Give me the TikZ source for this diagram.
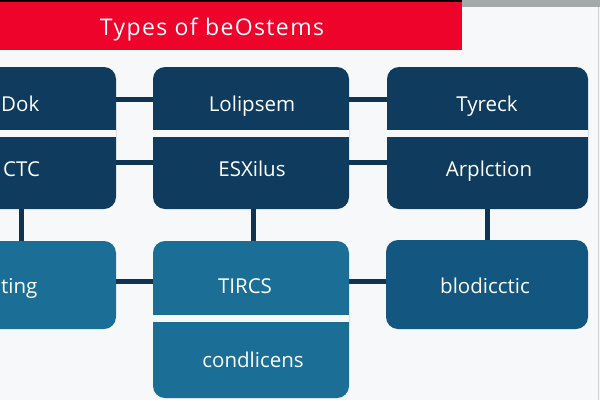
\documentclass[tikz,border=0pt]{standalone}
\usepackage{fontspec}
\setmainfont{Open Sans}
\definecolor{bgc}{RGB}{246,248,249}
\definecolor{navyc}{RGB}{14,59,94}
\definecolor{tealc}{RGB}{27,110,150}
\definecolor{deepc}{RGB}{19,86,128}
\definecolor{connc}{RGB}{14,52,82}
\definecolor{grayband}{RGB}{164,169,170}
\definecolor{titlered}{RGB}{238,4,42}
\definecolor{borderc}{RGB}{205,209,211}
\begin{document}
\begin{tikzpicture}[x=1pt,y=-1pt,
  navy/.style={fill=navyc},
  tealbox/.style={fill=tealc},
  deepbox/.style={fill=deepc},
  box/.style={rounded corners=12pt, inner sep=0pt, draw=none},
  gapline/.style={line width=7pt, draw=bgc},
  conn/.style={line width=5pt, draw=connc},
  lbl/.style={text=white, font=\fontsize{20.5}{24}\selectfont, inner sep=0pt, anchor=base}]
\useasboundingbox (0,0) rectangle (600,400);
\clip (0,0) rectangle (600,400);
% background
\fill[bgc] (0,0) rectangle (600,400);
% title bar
\fill[grayband] (462,0) rectangle (600,7);
\fill[titlered] (0,0) rectangle (462,50);
\fill[black] (0,0) rectangle (462,1.5);
\draw[borderc, line width=1pt] (598,7) -- (598,400);
\node[text=white, font=\fontsize{23}{26}\selectfont\addfontfeatures{LetterSpace=6}, inner sep=0pt, anchor=base] (title) at (212,35) {Types of beOstems};
\coordinate (ya) at (0,99);
\coordinate (yb) at (0,162);
\coordinate (yc) at (0,281);
% boxes
\node[box, navy, minimum width=200pt, minimum height=142pt] (L) at (16,138) {};
\node[box, navy, minimum width=196pt, minimum height=142pt] (M) at (251,138) {};
\node[box, navy, minimum width=201pt, minimum height=142pt] (R) at (487.5,138) {};
\node[box, tealbox, minimum width=200pt, minimum height=88pt] (BL) at (16,285) {};
\node[box, tealbox, minimum width=196pt, minimum height=157pt] (BM) at (251,319.5) {};
\node[box, deepbox, minimum width=202pt, minimum height=89pt] (BR) at (487,284.5) {};
% split lines
\draw[gapline] (L.west |- 0,133.5) -- (L.east |- 0,133.5);
\draw[gapline] (M.west |- 0,133.5) -- (M.east |- 0,133.5);
\draw[gapline] (R.west |- 0,133.5) -- (R.east |- 0,133.5);
\draw[gapline] (BM.west |- 0,318.5) -- (BM.east |- 0,318.5);
% connectors
\draw[conn] (L.east |- ya) -- (M.west |- ya);
\draw[conn] (M.east |- ya) -- (R.west |- ya);
\draw[conn] (L.east |- yb) -- (M.west |- yb);
\draw[conn] (M.east |- yb) -- (R.west |- yb);
\draw[conn] (BL.east |- yc) -- (BM.west |- yc);
\draw[conn] (BM.east |- yc) -- (BR.west |- yc);
\draw[conn] (L.south -| 21,0) -- (BL.north -| 21,0);
\draw[conn] (M.south -| 253,0) -- (BM.north -| 253,0);
\draw[conn] (R.south -| 487,0) -- (BR.north -| 487,0);
% labels
\node[lbl, anchor=base west] (t1) at (1,111) {Dok};
\node[lbl] (t2) at (252,111) {Lolipsem};
\node[lbl] (t3) at (487,111) {Tyreck};
\node[lbl, anchor=base west] (t4) at (3,176) {CTC};
\node[lbl] (t5) at (252,176) {ESXilus};
\node[lbl] (t6) at (489,176) {Arplction};
\node[lbl, anchor=base west] (t7) at (1,293) {ting};
\node[lbl] (t8) at (245,293) {TIRCS};
\node[lbl] (t9) at (485,293) {blodicctic};
\node[lbl] (t10) at (253,367) {condlicens};
\end{tikzpicture}
\end{document}
